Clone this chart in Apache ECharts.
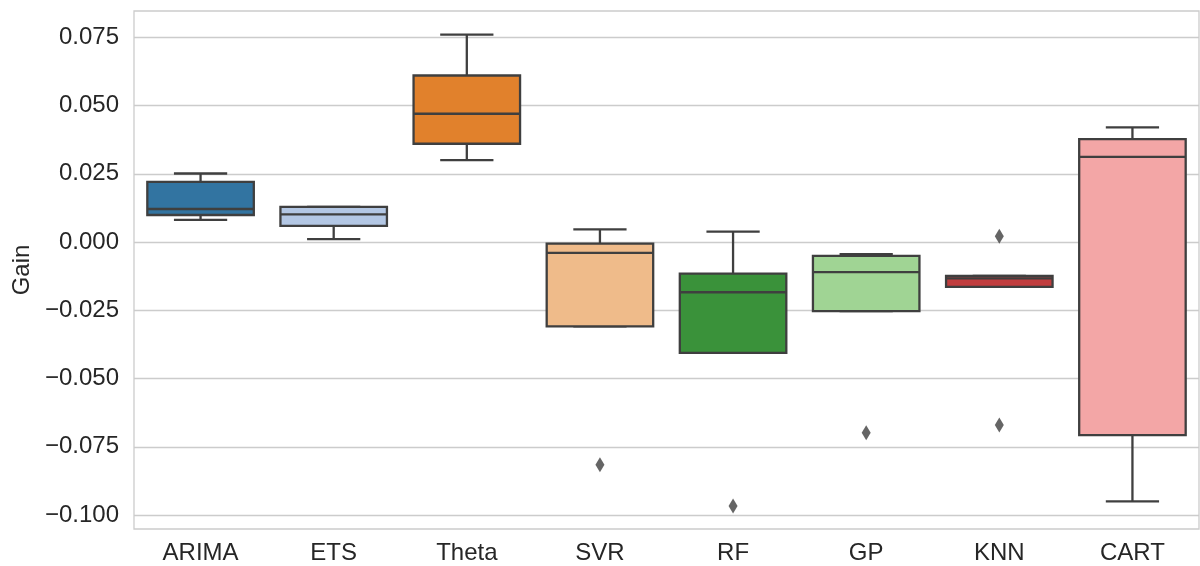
<!DOCTYPE html>
<html>
<head>
<meta charset="utf-8">
<script src="https://cdn.jsdelivr.net/npm/echarts@6/dist/echarts.min.js"></script>
<style>
html,body{margin:0;padding:0;background:#fff;}
#chart{width:1200px;height:566px;}
</style>
</head>
<body>
<div id="chart"></div>
<script>
var categories = ['ARIMA','ETS','Theta','SVR','RF','GP','KNN','CART'];
var whiskerLow  = [0.0081, 0.0011, 0.0300, -0.0309, -0.0406, -0.0253, -0.0164, -0.0950];
var q1          = [0.0099, 0.0059, 0.0360, -0.0309, -0.0406, -0.0253, -0.0164, -0.0707];
var median      = [0.0121, 0.0101, 0.0470, -0.0040, -0.0184, -0.0110, -0.0133, 0.0312];
var q3          = [0.0220, 0.0129, 0.0610, -0.0006, -0.0116, -0.0051, -0.0124, 0.0377];
var whiskerHigh = [0.0251, 0.0129, 0.0760, 0.0046, 0.0038, -0.0044, -0.0124, 0.0420];
var outliers = [[3, -0.0816], [4, -0.0967], [5, -0.0699], [6, 0.0021], [6, -0.0670]];
var boxColors = ['#3274a1','#b3c7e4','#e1812c','#efbb8a','#3a923a','#a0d494','#c03d3e','#f3a6a6'];
var yTicks = [-0.100, -0.075, -0.050, -0.025, 0.000, 0.025, 0.050, 0.075];

var edge = '#3f3f3f';
var boxData = categories.map(function(c, i){
  return [i, whiskerLow[i], q1[i], median[i], q3[i], whiskerHigh[i]];
});

function renderBox(params, api){
  var i = api.value(0);
  var wl = api.coord([i, api.value(1)]);
  var b1 = api.coord([i, api.value(2)]);
  var md = api.coord([i, api.value(3)]);
  var b3 = api.coord([i, api.value(4)]);
  var wh = api.coord([i, api.value(5)]);
  var w = api.size([1, 0])[0] * 0.8;
  var x = wl[0];
  var ls = {stroke: edge, lineWidth: 2.3, fill: null};
  return {
    type: 'group',
    children: [
      {type:'line', shape:{x1:x, y1:b3[1], x2:x, y2:wh[1]}, style:ls},
      {type:'line', shape:{x1:x, y1:b1[1], x2:x, y2:wl[1]}, style:ls},
      {type:'line', shape:{x1:x-w/4, y1:wh[1], x2:x+w/4, y2:wh[1]}, style:ls},
      {type:'line', shape:{x1:x-w/4, y1:wl[1], x2:x+w/4, y2:wl[1]}, style:ls},
      {type:'rect', shape:{x:x-w/2, y:b3[1], width:w, height:b1[1]-b3[1]},
        style:{fill: boxColors[params.dataIndex], stroke: edge, lineWidth: 2.3}},
      {type:'line', shape:{x1:x-w/2, y1:md[1], x2:x+w/2, y2:md[1]}, style:ls}
    ]
  };
}

var font = 'Liberation Sans, Arial, sans-serif';
var chart = echarts.init(document.getElementById('chart'));
chart.setOption({
  backgroundColor: '#ffffff',
  animation: false,
  grid: {left: 134, right: 1, top: 11, bottom: 37, show: true, borderColor: '#cccccc', borderWidth: 1.3, backgroundColor: 'transparent'},
  xAxis: {
    type: 'category',
    data: categories,
    boundaryGap: true,
    axisLine: {show: false},
    axisTick: {show: false},
    splitLine: {show: false},
    axisLabel: {fontFamily: font, fontSize: 24, color: '#262626', margin: 12}
  },
  yAxis: {
    type: 'value',
    min: -0.10512,
    max: 0.08463,
    name: 'Gain',
    nameLocation: 'middle',
    nameGap: 98,
    nameTextStyle: {fontFamily: font, fontSize: 24, color: '#262626'},
    axisLine: {show: false},
    axisTick: {show: false, customValues: yTicks},
    splitLine: {show: true, lineStyle: {color: '#cccccc', width: 1.3}},
    axisLabel: {
      customValues: yTicks,
      fontFamily: font, fontSize: 24, color: '#262626', margin: 15,
      formatter: function(v){
        var s = Math.abs(v).toFixed(3);
        return (v < -1e-9 ? '\u2212' : '') + s;
      }
    }
  },
  series: [
    {type: 'custom', renderItem: renderBox, data: boxData, encode: {x: 0, y: [1,2,3,4,5]}, z: 3},
    {type: 'scatter', data: outliers, symbol: 'diamond', symbolSize: [9, 15],
     itemStyle: {color: edge}, z: 4}
  ]
});
</script>
</body>
</html>
